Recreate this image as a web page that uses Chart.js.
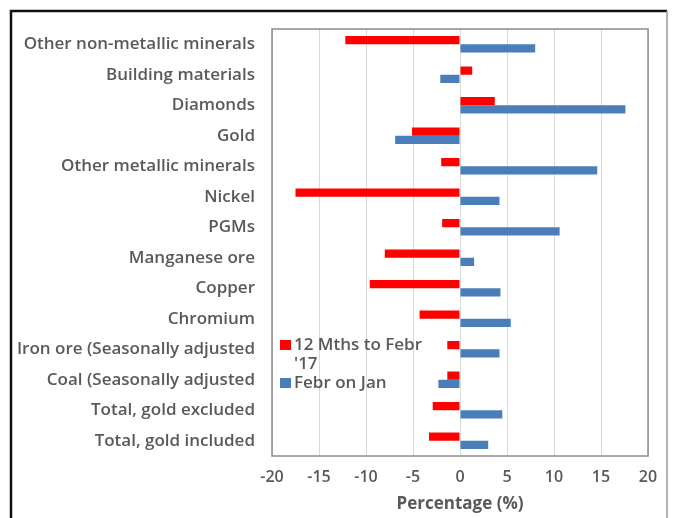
<!DOCTYPE html>
<html><head><meta charset="utf-8">
<script src="https://cdn.jsdelivr.net/npm/chart.js@4.4.0/dist/chart.umd.min.js"></script>
<style>html,body{margin:0;padding:0;background:#fff}#wrap{width:678px;height:518px;position:relative}</style>
</head><body><div id="wrap"><canvas id="c" width="678" height="518"></canvas></div>
<script>
const categories = ["Other non-metallic minerals","Building materials","Diamonds","Gold","Other metallic minerals","Nickel","PGMs","Manganese ore","Copper","Chromium","Iron ore (Seasonally adjusted","Coal (Seasonally adjusted","Total, gold excluded","Total, gold included"];
const twelveMonths = [-12.2,1.3,3.7,-5.1,-2.0,-17.5,-1.9,-8.0,-9.6,-4.3,-1.35,-1.35,-2.9,-3.3];
const febOnJan = [8.0,-2.1,17.6,-6.9,14.6,4.2,10.6,1.5,4.3,5.4,4.2,-2.3,4.5,3.0];
const xTicks = [-20,-15,-10,-5,0,5,10,15,20];
const seriesNames = [["12 Mths to Febr","'17"],["Febr on Jan"]];

const FONT = "'Open Sans', 'Liberation Sans', sans-serif";
const TXT = '#595959';

const deco = {
  id:'deco',
  afterDraw(chart){
    const ctx = chart.ctx, a = chart.chartArea;
    ctx.save();
    ctx.strokeStyle = '#8c8c8c'; ctx.lineWidth = 1.5;
    ctx.strokeRect(a.left, a.top, a.right-a.left, a.bottom-a.top);
    ctx.strokeStyle = '#111'; ctx.lineWidth = 2.5;
    ctx.beginPath(); ctx.moveTo(11,530); ctx.lineTo(11,11); ctx.lineTo(667,11); ctx.stroke();
    ctx.strokeStyle = '#999'; ctx.lineWidth = 1.5;
    ctx.beginPath(); ctx.moveTo(667,11); ctx.lineTo(667,530); ctx.stroke();
    // legend
    ctx.font = "600 17px " + FONT; ctx.textBaseline = 'middle'; ctx.textAlign='left';
    const ds = chart.data.datasets;
    let y = 345;
    ds.forEach((d,i)=>{
      ctx.fillStyle = d.backgroundColor;
      ctx.fillRect(280, y-5, 11, 10);
      ctx.fillStyle = TXT;
      const lines = seriesNames[i];
      lines.forEach((t,j)=>{ ctx.fillText(t, 294, y + j*19); });
      y += lines.length*19;
    });
    ctx.restore();
  }
};

new Chart(document.getElementById('c'), {
  type:'bar',
  data:{ labels: categories, datasets:[
    {label: seriesNames[0].join(' '), data: twelveMonths, backgroundColor:'#ff0000', categoryPercentage:0.54, barPercentage:1},
    {label: seriesNames[1].join(' '), data: febOnJan, backgroundColor:'#4a7ebb', categoryPercentage:0.54, barPercentage:1}
  ]},
  options:{
    indexAxis:'y', responsive:false, animation:false,
    layout:{padding:{top:29,right:30,left:0,bottom:0}},
    plugins:{legend:{display:false}, tooltip:{enabled:false}},
    scales:{
      x:{min:-20,max:20, afterBuildTicks(s){ s.ticks = xTicks.map(v=>({value:v})); },
        grid:{color:'#d9d9d9', drawTicks:false},
        border:{display:false},
        ticks:{color:TXT, font:{family:FONT,size:16,weight:'600'}, padding:12},
        title:{display:true, text:'Percentage (%)', color:TXT, font:{family:FONT,size:17,weight:'bold'}, padding:{top:2}},
        afterFit(s){ s.height = 62; }
      },
      y:{grid:{display:false, drawTicks:false}, border:{display:false},
        ticks:{color:TXT, font:{family:FONT,size:17,weight:'600'}, padding:17, autoSkip:false},
        afterFit(s){ s.width = 272; }
      }
    }
  },
  plugins:[deco]
});
</script></body></html>
